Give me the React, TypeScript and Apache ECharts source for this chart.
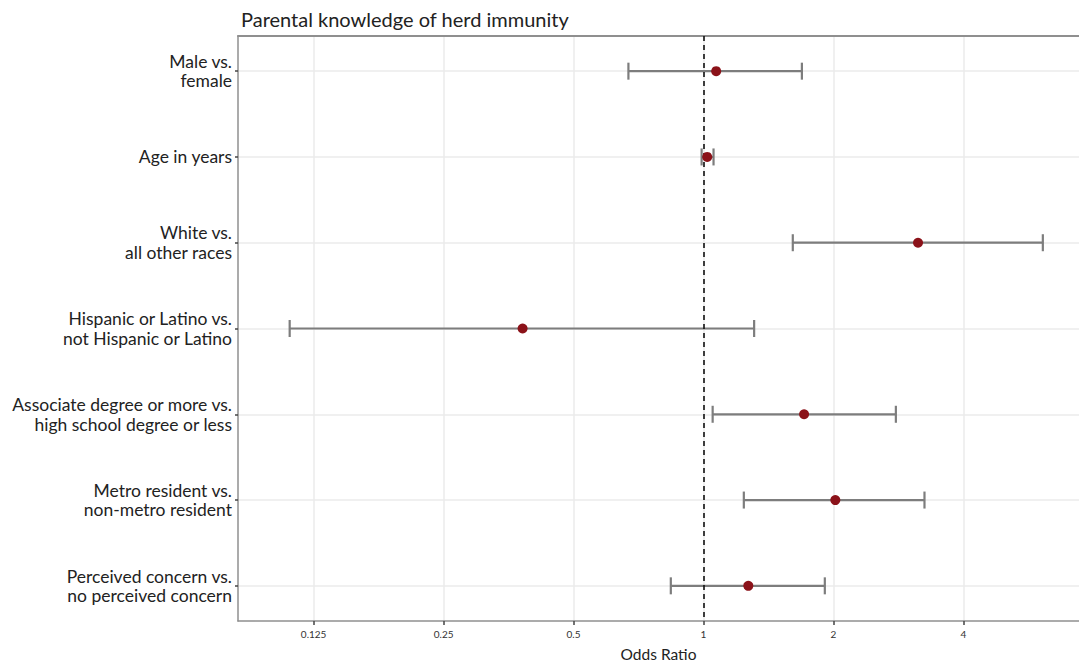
import React, { useEffect, useRef } from "react";
import * as echarts from "echarts";

const categories = [
  "Male vs.\nfemale",
  "Age in years",
  "White vs.\nall other races",
  "Hispanic or Latino vs.\nnot Hispanic or Latino",
  "Associate degree or more vs.\nhigh school degree or less",
  "Metro resident vs.\nnon-metro resident",
  "Perceived concern vs.\nno perceived concern",
];
const oddsRatio = [1.07, 1.02, 3.14, 0.381, 1.71, 2.02, 1.27];
const ciLower = [0.67, 0.99, 1.61, 0.11, 1.05, 1.24, 0.84];
const ciUpper = [1.69, 1.055, 6.11, 1.31, 2.79, 3.25, 1.91];
const xTickValues = [0.125, 0.25, 0.5, 1, 2, 4];
const xTickLabels = ["0.125", "0.25", "0.5", "1", "2", "4"];
const xRange = [0.0835, 7.41];

const FONT = "Lato, 'Open Sans', sans-serif";
const log2 = (v: number) => Math.log(v) / Math.LN2;

export default function App() {
  const ref = useRef<HTMLDivElement>(null);
  useEffect(() => {
    if (!ref.current) return;
    const chart = echarts.init(ref.current, undefined, { renderer: "svg" });
    const tickPos = xTickValues.map(log2);
    const catIdx = categories.map((_, i) => i);
    const errData = categories.map((_, i) => [log2(ciLower[i]), log2(ciUpper[i]), i]);
    const ptData = categories.map((_, i) => [log2(oddsRatio[i]), i]);
    chart.setOption({
      animation: false,
      backgroundColor: "#ffffff",
      title: {
        text: "Parental knowledge of herd immunity",
        left: 236,
        top: 4,
        textStyle: { fontFamily: FONT, fontSize: 20, fontWeight: "normal", color: "#222" },
      },
      grid: { left: 238, right: 0, top: 36, bottom: 45, containLabel: false },
      xAxis: [
        {
          type: "value",
          position: "bottom",
          min: log2(xRange[0]),
          max: log2(xRange[1]),
          name: "Odds Ratio",
          nameLocation: "middle",
          nameGap: 25,
          nameTextStyle: { fontFamily: FONT, fontSize: 15.5, color: "#222" },
          axisLine: { show: true, onZero: false, lineStyle: { color: "#8f8f8f", width: 1.5 } },
          axisTick: {
            show: true,
            customValues: tickPos,
            length: 4,
            lineStyle: { color: "#444", width: 1.5 },
          },
          axisLabel: {
            customValues: tickPos,
            margin: 8,
            fontFamily: FONT,
            fontSize: 10,
            color: "#333",
            formatter: (v: number) => {
              const k = tickPos.findIndex((t) => Math.abs(t - v) < 1e-6);
              return k >= 0 ? xTickLabels[k] : "";
            },
          },
          splitLine: { show: true, lineStyle: { color: "#ebebeb", width: 1.5 } },
        },
        {
          type: "value",
          position: "top",
          min: log2(xRange[0]),
          max: log2(xRange[1]),
          axisLine: { show: true, onZero: false, lineStyle: { color: "#8f8f8f", width: 2 } },
          axisTick: { show: false },
          axisLabel: { show: false },
          splitLine: { show: false },
        },
      ],
      yAxis: {
        type: "value",
        inverse: true,
        min: -0.41,
        max: 6.41,
        axisLine: { show: true, onZero: false, lineStyle: { color: "#8f8f8f", width: 1.5 } },
        axisTick: {
          show: true,
          customValues: catIdx,
          length: 3,
          lineStyle: { color: "#444", width: 1.5 },
        },
        axisLabel: {
          customValues: catIdx,
          margin: 6,
          fontFamily: FONT,
          fontSize: 17.5,
          lineHeight: 19.5,
          color: "#222",
          align: "right",
          formatter: (v: number) => {
            const k = Math.round(v);
            return Math.abs(k - v) < 1e-6 && categories[k] ? categories[k] : "";
          },
        },
        splitLine: { show: true, lineStyle: { color: "#ebebeb", width: 1.5 } },
      },
      series: [
        {
          type: "custom",
          xAxisIndex: 0,
          data: errData,
          renderItem: (params: any, api: any) => {
            const y = api.value(2);
            const a = api.coord([api.value(0), y]);
            const b = api.coord([api.value(1), y]);
            const h = 8.5;
            const style = { stroke: "#7d7d7d", lineWidth: 2.2 };
            return {
              type: "group",
              children: [
                { type: "line", shape: { x1: a[0], y1: a[1], x2: b[0], y2: b[1] }, style },
                { type: "line", shape: { x1: a[0], y1: a[1] - h, x2: a[0], y2: a[1] + h }, style },
                { type: "line", shape: { x1: b[0], y1: b[1] - h, x2: b[0], y2: b[1] + h }, style },
              ],
            };
          },
          z: 3,
        },
        {
          type: "scatter",
          xAxisIndex: 0,
          data: ptData,
          symbol: "circle",
          symbolSize: 10,
          itemStyle: { color: "#8b1219", opacity: 1 },
          z: 5,
          markLine: {
            silent: true,
            symbol: "none",
            label: { show: false },
            lineStyle: { color: "#111", type: [5, 4], width: 1.6, opacity: 1 },
            data: [{ xAxis: 0 }],
            z: 4,
          },
        },
      ],
    });
    return () => chart.dispose();
  }, []);
  return <div ref={ref} style={{ width: 1079, height: 667, position: "absolute", left: 0, top: 0 }} />;
}
